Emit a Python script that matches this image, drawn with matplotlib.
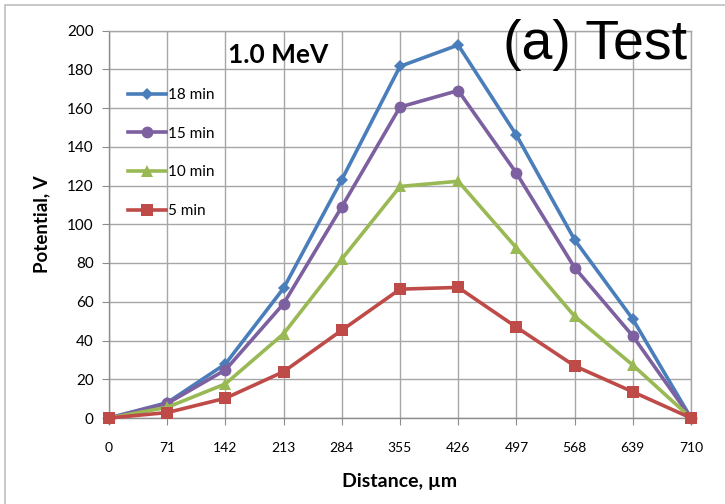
import numpy as np
import matplotlib
matplotlib.use('Agg')
import matplotlib.pyplot as plt
from matplotlib.patches import Rectangle

# 数据
distance = [0, 71, 142, 213, 284, 355, 426, 497, 568, 639, 710]
pot_18 = [0, 7.9, 27.9, 67, 123, 181.5, 192.5, 146, 92, 51, 0]
pot_15 = [0, 7.5, 24.8, 59, 109, 160.5, 169, 126.4, 77.6, 42.3, 0]
pot_10 = [0, 5.5, 17.6, 43.5, 82, 119.5, 122.2, 87.8, 52.5, 27.3, 0]
pot_5 = [0, 2.8, 10.2, 23.9, 45.3, 66.5, 67.4, 46.9, 26.9, 13.5, 0]

labels = ['18 min', '15 min', '10 min', '5 min']
colors = ['#4A7EBB', '#7D60A0', '#98B954', '#BE4B48']
markers = ['D', 'o', '^', 's']
msizes = [6.5, 8.5, 8.5, 8.5]

plt.rcParams['font.family'] = ['Lato', 'DejaVu Sans']

fig = plt.figure(figsize=(7.25, 5.04), dpi=100)
ax = fig.add_axes([109/725, 1-418/504, (691-109)/725, (418-30.5)/504])

for y, lab, c, m, ms in zip([pot_18, pot_15, pot_10, pot_5], labels, colors, markers, msizes):
    ax.plot(distance, y, color=c, lw=2.6, marker=m, markersize=ms, label=lab,
            markeredgewidth=0, clip_on=False, zorder=3)

ax.set_xlim(0, 710)
ax.set_ylim(0, 200)
ax.set_xticks(distance)
ax.set_xticklabels([str(d) for d in distance], fontsize=10)
ax.set_yticks(np.arange(0, 201, 20))
ax.tick_params(axis='y', labelsize=11, length=5, color='#8C8C8C', pad=6)
ax.tick_params(axis='x', length=5, color='#8C8C8C', pad=12)
ax.grid(True, color='#A6A6A6', lw=1)
ax.set_axisbelow(True)
for s in ax.spines.values():
    s.set_color('#A6A6A6')
    s.set_linewidth(1)
ax.spines['left'].set_color('#8C8C8C')
ax.spines['bottom'].set_color('#8C8C8C')

ax.set_xlabel('Distance, µm', fontsize=14, fontweight='bold', labelpad=14)
ax.set_ylabel('Potential, V', fontsize=13.5, fontweight='bold', labelpad=12)

fig.text(278/725, 1-55/504, '1.0 MeV', fontsize=19, fontweight='bold',
         ha='center', va='center')
fig.text(595/725, 1-45/504, '(a) Test', fontsize=40, family='Liberation Sans',
         ha='center', va='center')

ax.legend(loc='upper left', bbox_to_anchor=(128/725, 1-88/504),
          bbox_transform=fig.transFigure, frameon=False, fontsize=11,
          handlelength=2.5, handletextpad=0.15, labelspacing=1.62,
          borderpad=0, borderaxespad=0)

# 外框
fig.patches.append(Rectangle((5/725, -0.1), 1.0, 1.1 - 5/504, transform=fig.transFigure,
                             fill=False, edgecolor='#BFBFBF', lw=1.2))

plt.savefig('out.png', dpi=100)
